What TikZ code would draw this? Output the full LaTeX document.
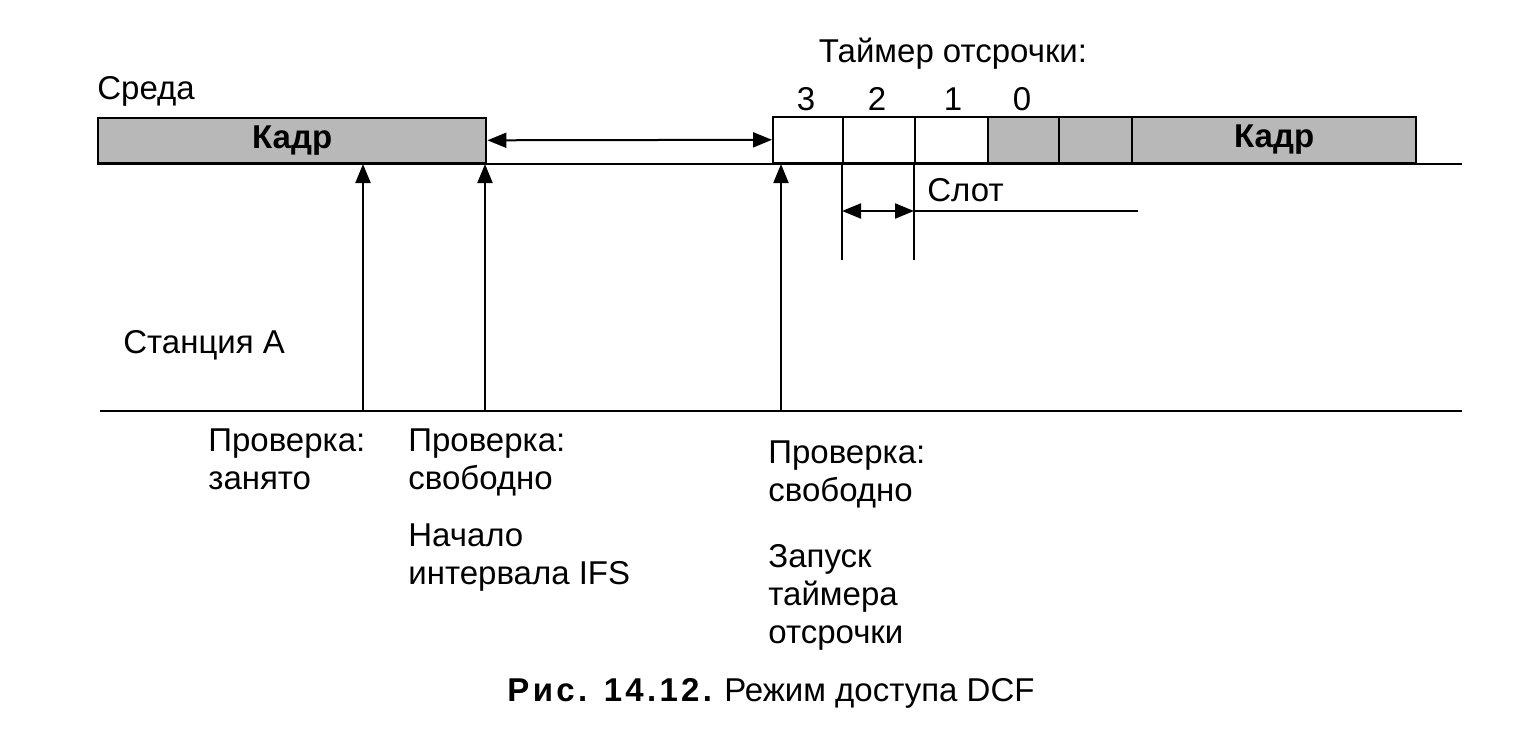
\documentclass[tikz,border=0pt]{standalone}
\usepackage{fontspec}
\setmainfont{Liberation Sans}
\usetikzlibrary{arrows.meta}
\begin{document}
\begin{tikzpicture}[x=0.5pt,y=-0.5pt,
  txt/.style={inner sep=0pt,font=\fontsize{16.5pt}{19pt}\selectfont},
  lbl/.style={txt,anchor=north west,align=left},
  shaded/.style={draw,line width=1.2pt,fill=black!28,anchor=south west,inner sep=0pt,minimum height=22.5pt,font=\fontsize{16.5pt}{19pt}\selectfont\bfseries},
  slotbox/.style={draw,line width=1.2pt,fill=white,anchor=south west,inner sep=0pt,minimum height=23pt},
  arr/.style={line width=1pt,-{Triangle[length=9.5pt,width=7.5pt]}},
  darr/.style={line width=1pt,{Triangle[length=9.5pt,width=7.5pt]}-{Triangle[length=9.5pt,width=7.5pt]}},
  rule/.style={line width=1.3pt}]
\useasboundingbox (0,0) rectangle (1524,749);
% base lines
\coordinate (m0) at (97,164);
\coordinate (m1) at (1462,164);
\coordinate (a0) at (100,411);
\coordinate (a1) at (1462,411);
% frames and slots
\node[shaded,minimum width=194pt] (f1) at (97,164) {\raisebox{-1pt}{Кадр}};
\node[slotbox,minimum width=35pt] (s3) at (772,164) {};
\node[slotbox,minimum width=36pt] (s2) at (842,164) {};
\node[slotbox,minimum width=36.5pt] (s1) at (914,164) {};
\node[shaded,minimum width=35.5pt,minimum height=23pt] (s0) at (987,164) {};
\node[shaded,minimum width=36.5pt,minimum height=23pt] (s00) at (1058,164) {};
\node[shaded,minimum width=142pt,minimum height=23pt] (f2) at (1131,164) {\raisebox{-1pt}{Кадр}};
\draw[rule] (m0) -- (m1);
\draw[rule] (a0) -- (a1);
% IFS arrow
\draw[darr] (f1.east) -- (s3.west);
% check arrows
\coordinate (p1) at (363,411);
\coordinate (p2) at (485,411);
\coordinate (p3) at (781,411);
\draw[arr] (p1) -- (p1 |- f1.south);
\draw[arr] (p2) -- (p2 |- f1.south);
\draw[arr] (p3) -- (p3 |- s3.south);
% slot marker
\coordinate (t2) at (842,260);
\coordinate (t1) at (914,260);
\coordinate (sl) at (914,211);
\coordinate (sr) at (1138,211);
\draw[line width=1pt] (s2.south west) -- (t2);
\draw[line width=1pt] (s1.south west) -- (t1);
\draw[darr] (s2.south west |- sl) -- (sl);
\draw[line width=1pt] (sl) -- (sr);
% texts
\node[txt,anchor=base west] (sreda) at (97,99) {Среда};
\node[txt,anchor=base west] (stA) at (123,353) {Станция А};
\node[txt,anchor=base] (timer) at (953,63) {Таймер отсрочки:};
\node[txt,anchor=base] (n3) at (806,111) {3};
\node[txt,anchor=base] (n2) at (877,111) {2};
\node[txt,anchor=base] (n1) at (953,111) {1};
\node[txt,anchor=base] (n0) at (1022,111) {0};
\node[txt,anchor=base west] (slot) at (927,201) {Слот};
\node[lbl] (l1) at (208,428) {Проверка:\\занято};
\node[lbl] (l2) at (408,428) {Проверка:\\свободно};
\node[lbl] (l3) at (408,523) {Начало\\интервала IFS};
\node[lbl] (l4) at (768,440) {Проверка:\\свободно};
\node[lbl] (l5) at (768,544) {Запуск\\таймера\\отсрочки};
\node[txt,anchor=base] (cap) at (771,701) {{\bfseries\addfontfeature{LetterSpace=10}Рис. 14.12.} Режим доступа DCF};
\end{tikzpicture}
\end{document}
